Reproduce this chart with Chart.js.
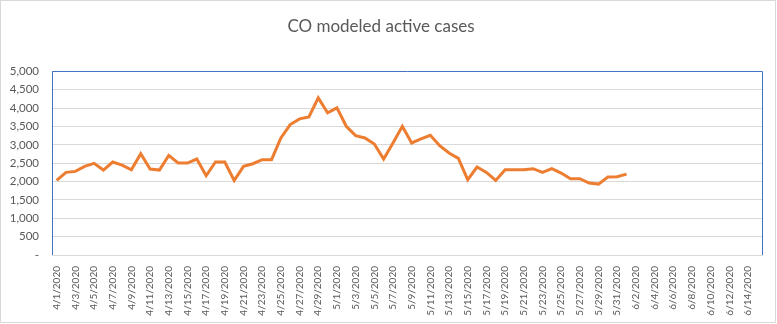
<!DOCTYPE html>
<html>
<head>
<meta charset="utf-8">
<script src="https://cdn.jsdelivr.net/npm/chart.js@4.4.0/dist/chart.umd.min.js"></script>
<style>
  html, body { margin: 0; padding: 0; background: #ffffff; }
  #wrap { width: 777px; height: 324px; }
</style>
</head>
<body>
<div id="wrap"><canvas id="chart" width="777" height="324"></canvas></div>
<script>
// x categories: 4/1/2020 .. 6/15/2020
const dates = [];
const startDay = new Date(2020, 3, 1);
for (let i = 0; i < 76; i++) {
    const d = new Date(startDay);
    d.setDate(startDay.getDate() + i);
    dates.push((d.getMonth() + 1) + '/' + d.getDate() + '/' + d.getFullYear());
}

// modeled active cases (4/1 .. 6/1)
const activeCases = [
    2030, 2250, 2277, 2413, 2495, 2313, 2532, 2450, 2322, 2760,
    2340, 2313, 2713, 2505, 2505, 2614, 2158, 2532, 2532, 2030,
    2413, 2486, 2596, 2596, 3188, 3552, 3707, 3761, 4280, 3871,
    4007, 3506, 3251, 3188, 3023, 2614, 3051, 3506, 3051, 3160,
    3260, 2978, 2778, 2632, 2049, 2395, 2250, 2030, 2322, 2322,
    2322, 2350, 2250, 2350, 2231, 2077, 2077, 1958, 1931, 2122,
    2131, 2204
];

const yTicks = [0, 500, 1000, 1500, 2000, 2500, 3000, 3500, 4000, 4500, 5000];

const textColor = '#595959';
const gridColor = '#d9d9d9';
const frameBlue = '#4472c4';

// plot frame (blue left/top/right) and outer chart border
const framePlugin = {
    id: 'frame',
    afterDraw(chart) {
        const { ctx, chartArea } = chart;
        ctx.save();
        ctx.strokeStyle = frameBlue;
        ctx.lineWidth = 1;
        ctx.beginPath();
        ctx.moveTo(Math.round(chartArea.left) + 0.5, Math.round(chartArea.bottom));
        ctx.lineTo(Math.round(chartArea.left) + 0.5, Math.round(chartArea.top) + 0.5);
        ctx.lineTo(Math.round(chartArea.right) + 0.5, Math.round(chartArea.top) + 0.5);
        ctx.lineTo(Math.round(chartArea.right) + 0.5, Math.round(chartArea.bottom));
        ctx.stroke();
        ctx.strokeStyle = gridColor;
        ctx.strokeRect(0.5, 0.5, chart.width - 2, chart.height - 2);
        ctx.restore();
    }
};

new Chart(document.getElementById('chart').getContext('2d'), {
    type: 'line',
    data: {
        labels: dates,
        datasets: [{
            label: 'Active cases',
            data: activeCases,
            borderColor: '#ed7d31',
            borderWidth: 3,
            pointRadius: 0,
            tension: 0,
            fill: false
        }]
    },
    options: {
        responsive: false,
        animation: false,
        layout: { padding: { left: 0, right: 15, top: 0, bottom: 0 } },
        plugins: {
            legend: { display: false },
            tooltip: { enabled: false },
            title: {
                display: true,
                text: 'CO modeled active cases',
                color: textColor,
                font: { family: 'Lato', size: 17, weight: 'normal' },
                padding: { top: 16, bottom: 35 }
            }
        },
        scales: {
            x: {
                type: 'category',
                offset: true,
                grid: { display: false },
                border: { color: gridColor },
                afterFit(scale) { scale.height = 69; },
                ticks: {
                    autoSkip: false,
                    maxRotation: 90,
                    minRotation: 90,
                    padding: 3,
                    color: textColor,
                    font: { family: 'Lato', size: 10 },
                    callback(value, index) {
                        return index % 2 === 0 ? dates[index] : '';
                    }
                }
            },
            y: {
                min: 0,
                max: 5000,
                afterFit(scale) { scale.width = 52; },
                afterBuildTicks(scale) {
                    scale.ticks = yTicks.map(v => ({ value: v }));
                },
                grid: { color: gridColor, drawTicks: false },
                border: { display: false },
                ticks: {
                    padding: 13,
                    color: textColor,
                    font: { family: 'Lato', size: 11.5 },
                    callback(value) {
                        return value === 0 ? '-' : value.toLocaleString('en-US');
                    }
                }
            }
        }
    },
    plugins: [framePlugin]
});
</script>
</body>
</html>
